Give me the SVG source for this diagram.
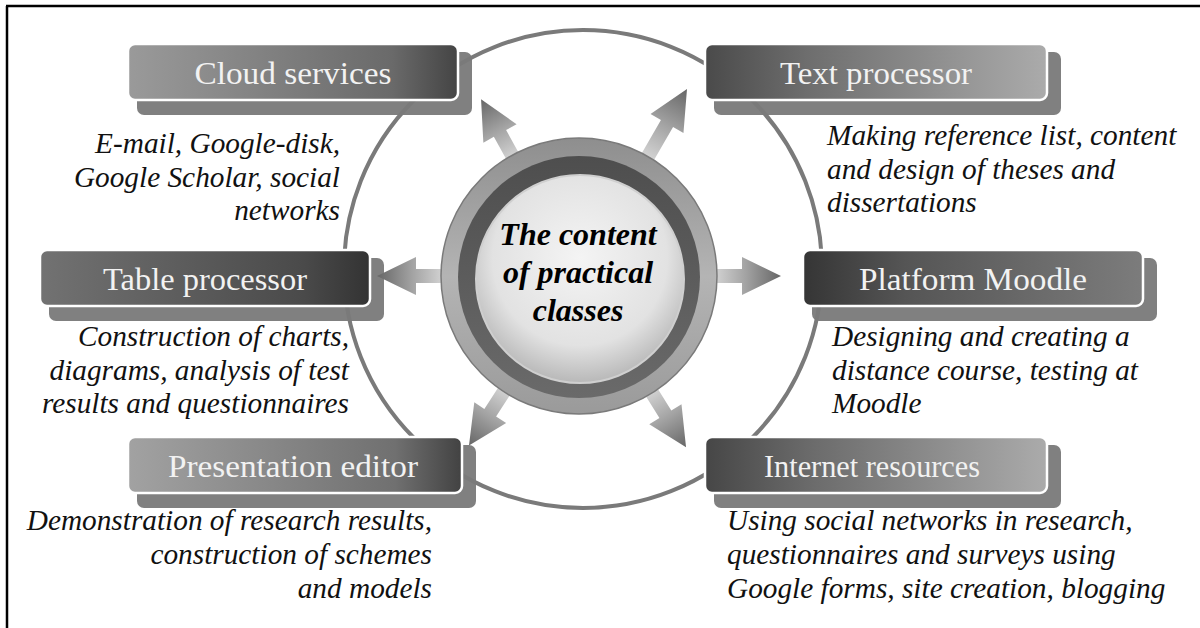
<svg xmlns="http://www.w3.org/2000/svg" width="1200" height="628" viewBox="0 0 1200 628">
<style>
.title{font-family:"Liberation Serif","Times New Roman",serif;font-size:32px;fill:#f2f2f2;text-anchor:middle}
.desc{font-family:"Liberation Serif","Times New Roman",serif;font-size:29.3px;font-style:italic;fill:#111}
.r{text-anchor:end}
.center{font-family:"Liberation Serif","Times New Roman",serif;font-size:32px;font-style:italic;font-weight:bold;fill:#000;text-anchor:middle}
.main{stroke:#fff;stroke-width:2.5}
.shadow{fill:#808080}
</style>
<defs>
<linearGradient id="gCloud" x1="0" x2="1" y1="0" y2="0"><stop offset="0" stop-color="#9a9a9a"/><stop offset="0.8" stop-color="#6a6a6a"/><stop offset="1" stop-color="#444"/></linearGradient>
<linearGradient id="gText" x1="0" x2="1" y1="0" y2="0"><stop offset="0" stop-color="#4a4a4a"/><stop offset="0.3" stop-color="#6e6e6e"/><stop offset="1" stop-color="#ababab"/></linearGradient>
<linearGradient id="gTable" x1="0" x2="1" y1="0" y2="0"><stop offset="0" stop-color="#727272"/><stop offset="0.8" stop-color="#4a4a4a"/><stop offset="1" stop-color="#333"/></linearGradient>
<linearGradient id="gMoodle" x1="0" x2="1" y1="0" y2="0"><stop offset="0" stop-color="#353535"/><stop offset="0.3" stop-color="#555"/><stop offset="1" stop-color="#7c7c7c"/></linearGradient>
<linearGradient id="gPres" x1="0" x2="1" y1="0" y2="0"><stop offset="0" stop-color="#a2a2a2"/><stop offset="0.8" stop-color="#707070"/><stop offset="1" stop-color="#424242"/></linearGradient>
<linearGradient id="gInt" x1="0" x2="1" y1="0" y2="0"><stop offset="0" stop-color="#464646"/><stop offset="0.3" stop-color="#6a6a6a"/><stop offset="1" stop-color="#ababab"/></linearGradient>
<linearGradient id="gArrow" gradientUnits="userSpaceOnUse" x1="130" y1="0" x2="202" y2="0"><stop offset="0" stop-color="#dcdcdc"/><stop offset="0.5" stop-color="#a4a4a4"/><stop offset="1" stop-color="#666"/></linearGradient>
<linearGradient id="gArrowL" gradientUnits="userSpaceOnUse" x1="130" y1="0" x2="216" y2="0"><stop offset="0" stop-color="#dcdcdc"/><stop offset="0.5" stop-color="#a4a4a4"/><stop offset="1" stop-color="#666"/></linearGradient>
<linearGradient id="gRing" x1="0" y1="0" x2="0" y2="1"><stop offset="0" stop-color="#8e8e8e"/><stop offset="0.5" stop-color="#b4b4b4"/><stop offset="1" stop-color="#9a9a9a"/></linearGradient>
<linearGradient id="gBand" x1="0" y1="0" x2="0" y2="1"><stop offset="0" stop-color="#4e4e4e"/><stop offset="1" stop-color="#6a6a6a"/></linearGradient>
<radialGradient id="gDisk" cx="0.5" cy="0.4" r="0.6"><stop offset="0" stop-color="#f4f4f4"/><stop offset="0.7" stop-color="#e2e2e2"/><stop offset="1" stop-color="#b8b8b8"/></radialGradient>
<path id="arrow" d="M120,-7 L163,-7 L163,-19 L202,0 L163,19 L163,7 L120,7 Z" fill="url(#gArrow)"/>
<path id="arrowL" d="M120,-7 L176,-7 L176,-19 L216,0 L176,19 L176,7 L120,7 Z" fill="url(#gArrowL)"/>
</defs>
<rect width="1200" height="628" fill="#fff"/>
<path d="M6,6 H1200 M7,6 V628" stroke="#000" stroke-width="2.5" fill="none"/>

<g id="shadows">
<rect class="shadow" x="137" y="52" width="335" height="63" rx="7"/>
<rect class="shadow" x="714" y="52" width="347" height="63" rx="7"/>
<rect class="shadow" x="49" y="258" width="335" height="63" rx="7"/>
<rect class="shadow" x="812" y="258" width="345" height="63" rx="7"/>
<rect class="shadow" x="137" y="445" width="339" height="63" rx="7"/>
<rect class="shadow" x="714" y="445" width="347" height="63" rx="7"/>
</g>

<g id="connectors">
<circle cx="583" cy="269" r="239" fill="none" stroke="#7a7a7a" stroke-width="4"/>
<g transform="translate(579,276)">
<use href="#arrow" transform="rotate(180)"/>
<use href="#arrow" transform="rotate(0)"/>
<use href="#arrow" transform="rotate(-119)"/>
<use href="#arrowL" transform="rotate(-60)"/>
<use href="#arrow" transform="rotate(123)"/>
<use href="#arrow" transform="rotate(58)"/>
</g>
</g>

<g id="center">
<circle cx="579" cy="276" r="138" fill="url(#gRing)"/>
<circle cx="579" cy="276" r="138" fill="none" stroke="#7a7a7a" stroke-width="1.5"/>
<circle cx="579" cy="277" r="121" fill="url(#gBand)"/>
<circle cx="580" cy="279" r="104" fill="url(#gDisk)" stroke="#cfcfcf" stroke-width="2"/>
<text class="center" x="578" y="245">The content</text>
<text class="center" x="578" y="283">of practical</text>
<text class="center" x="578" y="321">classes</text>
</g>

<g id="cloud">
<rect class="main" x="128" y="44" width="330" height="56" rx="7" fill="url(#gCloud)"/>
<text class="title" x="293" y="84" textLength="197" lengthAdjust="spacingAndGlyphs">Cloud services</text>
<text class="desc r" x="340" y="153">E-mail, Google-disk,</text>
<text class="desc r" x="340" y="187">Google Scholar, social</text>
<text class="desc r" x="340" y="220">networks</text>
</g>

<g id="text">
<rect class="main" x="705" y="44" width="342" height="56" rx="7" fill="url(#gText)"/>
<text class="title" x="876" y="84" textLength="192" lengthAdjust="spacingAndGlyphs">Text processor</text>
<text class="desc" x="827" y="145">Making reference list, content</text>
<text class="desc" x="827" y="179">and design of theses and</text>
<text class="desc" x="827" y="212">dissertations</text>
</g>

<g id="table">
<rect class="main" x="40" y="250" width="330" height="56" rx="7" fill="url(#gTable)"/>
<text class="title" x="205" y="290" textLength="204" lengthAdjust="spacingAndGlyphs">Table processor</text>
<text class="desc r" x="349" y="346">Construction of charts,</text>
<text class="desc r" x="349" y="380">diagrams, analysis of test</text>
<text class="desc r" x="349" y="413">results and questionnaires</text>
</g>

<g id="moodle">
<rect class="main" x="803" y="250" width="340" height="56" rx="7" fill="url(#gMoodle)"/>
<text class="title" x="973" y="290" textLength="228" lengthAdjust="spacingAndGlyphs">Platform Moodle</text>
<text class="desc" x="832" y="346">Designing and creating a</text>
<text class="desc" x="832" y="380">distance course, testing at</text>
<text class="desc" x="832" y="413">Moodle</text>
</g>

<g id="presentation">
<rect class="main" x="128" y="437" width="334" height="56" rx="7" fill="url(#gPres)"/>
<text class="title" x="293" y="477" textLength="250" lengthAdjust="spacingAndGlyphs">Presentation editor</text>
<text class="desc r" x="432" y="530">Demonstration of research results,</text>
<text class="desc r" x="432" y="564">construction of schemes</text>
<text class="desc r" x="432" y="598">and models</text>
</g>

<g id="internet">
<rect class="main" x="705" y="437" width="342" height="56" rx="7" fill="url(#gInt)"/>
<text class="title" x="872" y="477" textLength="216" lengthAdjust="spacingAndGlyphs">Internet resources</text>
<text class="desc" x="727" y="530">Using social networks in research,</text>
<text class="desc" x="727" y="564">questionnaires and surveys using</text>
<text class="desc" x="727" y="598">Google forms, site creation, blogging</text>
</g>
</svg>
